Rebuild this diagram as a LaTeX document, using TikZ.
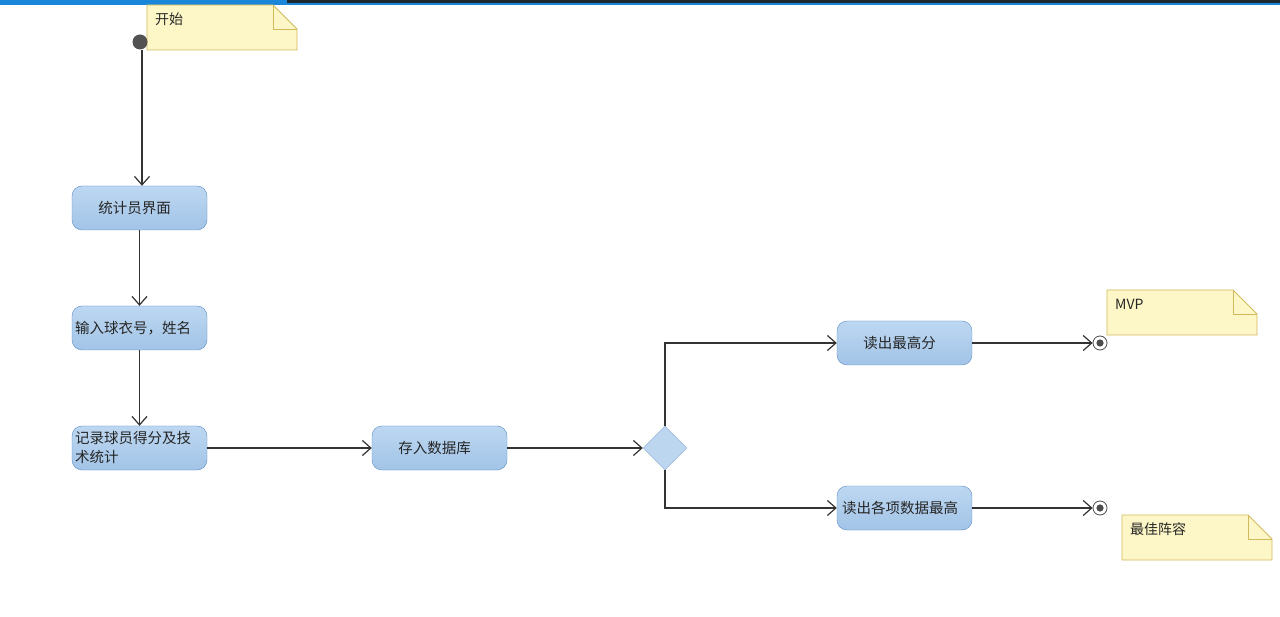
\documentclass[tikz,border=0pt]{standalone}
\usepackage{fontspec}
\setmainfont{Noto Sans CJK SC}
\usetikzlibrary{arrows.meta,shapes.geometric}
\definecolor{boxline}{HTML}{5B8CC4}
\definecolor{boxtop}{HTML}{BDD7F1}
\definecolor{boxbot}{HTML}{A2C4E7}
\definecolor{notefill}{HTML}{FDF6C6}
\definecolor{noteline}{HTML}{D2BA5C}
\definecolor{conn}{HTML}{333333}
\definecolor{topdark}{HTML}{1E2A30}
\definecolor{topblue}{HTML}{1A86DA}
\tikzset{
  actbox/.style={rectangle, rounded corners=10pt, draw=boxline, top color=boxtop, bottom color=boxbot,
    minimum width=135pt, minimum height=44pt, inner sep=0pt},
  acttext/.style={font=\fontsize{14.5}{19}\selectfont, text=black!85, inner sep=0pt},
  flow/.style={draw=conn, line width=1.2pt, -{Straight Barb[length=8.5pt,width=15pt,line width=1.2pt]}},
  notebox/.style={fill=notefill, draw=noteline, line width=0.8pt},
  notetext/.style={font=\fontsize{14}{16}\selectfont, text=black!85, inner sep=0pt, anchor=north west},
  decision/.style={diamond, draw=boxline!70, fill=boxtop!95!boxbot, minimum width=44pt, minimum height=44pt, inner sep=0pt, aspect=1}
}
\begin{document}
\begin{tikzpicture}[x=1pt,y=-1pt]
\useasboundingbox (0,0) rectangle (1280,617);
\fill[white] (0,0) rectangle (1280,617);
% top bar
\fill[topdark] (0,0) rectangle (1280,3.5);
\fill[topblue] (0,3.5) rectangle (1280,5.5);
\fill[topblue] (0,0) rectangle (287,5.5);

% start note
\path[notebox] (147,5) -- (273,5) -- (297,29) -- (297,50) -- (147,50) -- cycle;
\draw[noteline, line width=0.8pt] (273,5) -- (273,29) -- (297,29);
\node[notetext] (n0) at (155,13) {开始};

% start node
\node[circle, fill=black!68, minimum size=15pt, inner sep=0pt] (start) at (140,42) {};

% activities
\node[actbox] (b1) at (139.5,208) {};
\node[acttext] (t1) at (134.5,208) {统计员界面};
\node[actbox] (b2) at (139.5,328) {};
\node[acttext, anchor=west] (t2) at (75,328) {输入球衣号，姓名};
\node[actbox] (b3) at (139.5,448) {};
\node[acttext, anchor=west, align=left] (t3) at (75,447) {记录球员得分及技\\术统计};
\node[actbox] (b4) at (439.5,448) {};
\node[acttext] (t4) at (434.5,448) {存入数据库};
\node[decision] (d) at (665,448) {};
\node[actbox] (b5) at (904.5,343) {};
\node[acttext] (t5) at (899.5,343) {读出最高分};
\node[actbox] (b6) at (904.5,508) {};
\node[acttext] (t6) at (900,508) {读出各项数据最高};

% end nodes
\node[circle, draw=black!70, fill=white, line width=0.8pt, minimum size=14pt, inner sep=0pt] (e1) at (1100,343) {};
\fill[black!70] (e1.center) circle (3.6pt);
\node[circle, draw=black!70, fill=white, line width=0.8pt, minimum size=14pt, inner sep=0pt] (e2) at (1100,508) {};
\fill[black!70] (e2.center) circle (3.6pt);

% notes
\path[notebox] (1107,290) -- (1233,290) -- (1257,314) -- (1257,335) -- (1107,335) -- cycle;
\draw[noteline, line width=0.8pt] (1233,290) -- (1233,314) -- (1257,314);
\node[notetext] (n1) at (1115,299) {MVP};
\path[notebox] (1122,515) -- (1248,515) -- (1272,539) -- (1272,560) -- (1122,560) -- cycle;
\draw[noteline, line width=0.8pt] (1248,515) -- (1248,539) -- (1272,539);
\node[notetext] (n2) at (1130,522) {最佳阵容};

% connectors
\draw[flow] ([xshift=2pt]start.south) -- ([xshift=2.5pt]b1.north);
\draw[flow] (b1) -- (b2);
\draw[flow] (b2) -- (b3);
\draw[flow] (b3) -- (b4);
\draw[flow] (b4) -- (d);
\draw[flow] (d.north) |- (b5.west);
\draw[flow] (d.south) |- (b6.west);
\draw[flow] (b5) -- (e1);
\draw[flow] (b6) -- (e2);
\end{tikzpicture}
\end{document}
